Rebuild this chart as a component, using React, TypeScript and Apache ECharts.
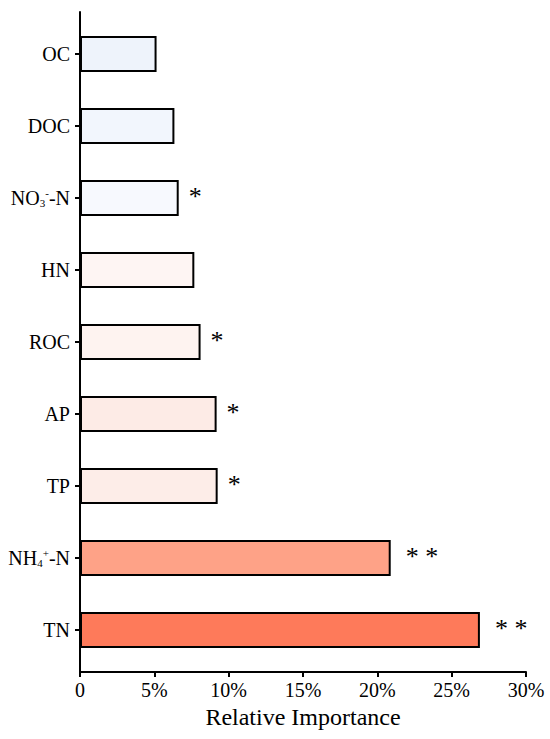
import React, { useEffect, useRef } from "react";
import * as echarts from "echarts";

const categories = ["OC", "DOC", "NO3-N", "HN", "ROC", "AP", "TP", "NH4-N", "TN"];
const values = [5.15, 6.35, 6.64, 7.69, 8.11, 9.19, 9.26, 20.9, 26.9];
const significance = ["", "", "*", "", "*", "*", "*", "* *", "* *"];
const barColors = ["#EEF3FB", "#F2F6FD", "#F7F9FE", "#FEF5F3", "#FEF3F0", "#FDEBE6", "#FDEDE8", "#FEA287", "#FE7A5A"];
const xTicks = [0, 5, 10, 15, 20, 25, 30];
const xTitle = "Relative Importance";

const FONT = "Liberation Serif";

const labelMap: Record<string, string> = {
  "NO3-N": "{n|NO}{sub|3}{sup|-}{n|-N}",
  "NH4-N": "{n|NH}{sub|4}{sup|+}{n|-N}",
};

export default function App() {
  const ref = useRef<HTMLDivElement>(null);
  useEffect(() => {
    if (!ref.current) return;
    const chart = echarts.init(ref.current, undefined, { renderer: "svg" });
    const L = 80, R = 24;
    chart.setOption({
      animation: false,
      backgroundColor: "#fff",
      textStyle: { fontFamily: FONT },
      grid: [
        { left: L, right: R, top: 18, height: 648 },
        { left: L, right: R, top: 12, height: 660 },
      ],
      xAxis: [
        { gridIndex: 0, type: "value", min: xTicks[0], max: xTicks[xTicks.length - 1], interval: 5, show: false },
        {
          gridIndex: 1,
          type: "value",
          min: xTicks[0],
          max: xTicks[xTicks.length - 1],
          interval: 5,
          axisLine: { show: true, lineStyle: { color: "#000", width: 2 } },
          axisTick: { show: true, length: 5, lineStyle: { color: "#000", width: 2 } },
          splitLine: { show: false },
          axisLabel: {
            margin: 8,
            fontFamily: FONT,
            fontSize: 20,
            color: "#000",
            formatter: (v: number) => "{n|" + (v === 0 ? "0" : v + "%") + "}",
            rich: { n: { fontFamily: FONT, fontSize: 20, color: "#000" } },
          },
          name: "{t|" + xTitle + "}",
          nameLocation: "middle",
          nameGap: 32,
          nameTextStyle: {
            fontFamily: FONT,
            fontSize: 24,
            color: "#000",
            rich: { t: { fontFamily: FONT, fontSize: 24, color: "#000" } },
          },
        },
      ],
      yAxis: [
        {
          gridIndex: 0,
          type: "category",
          inverse: true,
          data: categories,
          axisLine: { show: false },
          axisTick: { show: true, alignWithLabel: true, length: 5, lineStyle: { color: "#000", width: 2 } },
          axisLabel: {
            margin: 10,
            fontFamily: FONT,
            fontSize: 20,
            color: "#000",
            formatter: (v: string) => (labelMap[v] ? labelMap[v] : "{n|" + v + "}"),
            rich: {
              n: { fontFamily: FONT, fontSize: 20, color: "#000" },
              sub: { fontFamily: FONT, fontSize: 11, color: "#000", verticalAlign: "bottom", padding: [10, 0, 0, 0] },
              sup: { fontFamily: FONT, fontSize: 11, color: "#000", verticalAlign: "top", padding: [0, 0, 10, 0] },
            },
          },
        },
        {
          gridIndex: 1,
          type: "value",
          min: 0,
          max: 1,
          axisLine: { show: true, lineStyle: { color: "#000", width: 2 } },
          axisTick: { show: false },
          axisLabel: { show: false },
          splitLine: { show: false },
        },
      ],
      series: [
        {
          type: "bar",
          xAxisIndex: 0,
          yAxisIndex: 0,
          barWidth: 36,
          data: values.map((v, i) => ({
            value: v,
            itemStyle: { color: barColors[i], borderColor: "#000", borderWidth: 2 },
            label: { distance: significance[i].length > 1 ? 15 : 10 },
          })),
          label: {
            show: true,
            position: "right",
            distance: 10,
            fontFamily: FONT,
            fontSize: 26,
            color: "#000",
            offset: [0, -2],
            formatter: (p: any) => significance[p.dataIndex],
          },
        },
      ],
    });
    return () => chart.dispose();
  }, []);
  return <div ref={ref} style={{ width: 550, height: 739, position: "absolute", left: 0, top: 0 }} />;
}
